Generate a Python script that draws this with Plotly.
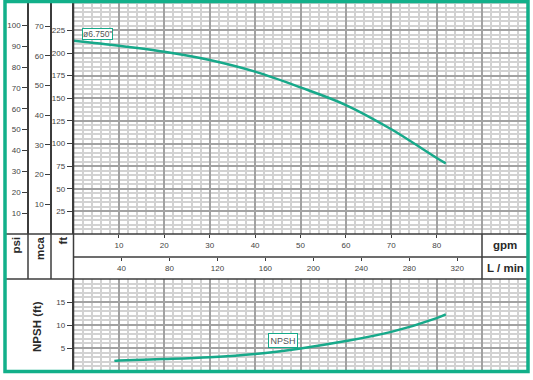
import plotly.graph_objects as go

# ---------------- data ----------------
flow_gpm = [0, 10, 20, 30, 40, 50, 60, 70, 80, 82]
head_ft = [213.6, 208.1, 201.4, 192.3, 179.4, 162.0, 142.5, 115.7, 84.0, 78.1]

npsh_flow_gpm = [9, 10, 20, 30, 40, 50, 60, 70, 80, 82]
npsh_ft = [2.2, 2.3, 2.6, 3.0, 3.7, 4.9, 6.5, 8.5, 11.5, 12.3]

ft_ticks = [25, 50, 75, 100, 125, 150, 175, 200, 225]
psi_ticks = [10, 20, 30, 40, 50, 60, 70, 80, 90, 100]
mca_ticks = [10, 20, 30, 40, 50, 60, 70]
npsh_ticks = [5, 10, 15]
gpm_ticks = [10, 20, 30, 40, 50, 60, 70, 80]
lpm_ticks = [40, 80, 120, 160, 200, 240, 280, 320]

impeller_label = 'ø6.750"'
npsh_label = "NPSH"

# ---------------- styling / layout constants ----------------
W, H = 533, 380
FT_PER_PSI = 2.30666
FT_PER_M = 3.28084
L_PER_GAL = 3.78541

GREEN = "#12b08a"
CURVE = "#17a98a"
DARK = "#3c3c3c"
MAJ = "#a2a2a2"
MIN = "#d2d2d2"
FONT = "Liberation Sans, Arial, sans-serif"

def px(x):
    return x / W

def py(y):
    return 1 - y / H

X0, X1 = 73.5, 527.5          # plot left/right in px
TOP_BOTTOM = 234.0            # 0 ft line
FT_SCALE = 0.905              # px per ft
FT_MAX = TOP_BOTTOM / FT_SCALE
N_TOP, N_BOT = 279.0, 371.0   # NPSH panel

fig = go.Figure()

fig.add_trace(go.Scatter(
    x=flow_gpm, y=head_ft, mode="lines", line=dict(color=CURVE, width=2.5, shape="spline"),
    xaxis="x", yaxis="y", showlegend=False, hoverinfo="skip"))
fig.add_trace(go.Scatter(
    x=npsh_flow_gpm, y=npsh_ft, mode="lines", line=dict(color=CURVE, width=2.5, shape="spline"),
    xaxis="x2", yaxis="y2", showlegend=False, hoverinfo="skip"))

# the same head curve expressed in the secondary units (transparent) so that the
# psi / mca / L-min scales are drawn by Plotly
clear = dict(color="rgba(0,0,0,0)", width=0)
fig.add_trace(go.Scatter(x=flow_gpm, y=[h / FT_PER_PSI for h in head_ft], mode="lines",
                         line=clear, xaxis="x", yaxis="y3", showlegend=False, hoverinfo="skip"))
fig.add_trace(go.Scatter(x=flow_gpm, y=[h / FT_PER_M for h in head_ft], mode="lines",
                         line=clear, xaxis="x", yaxis="y4", showlegend=False, hoverinfo="skip"))
fig.add_trace(go.Scatter(x=flow_gpm, y=head_ft, mode="lines",
                         line=clear, xaxis="x3", yaxis="y", showlegend=False, hoverinfo="skip"))
fig.add_trace(go.Scatter(x=[q * L_PER_GAL for q in flow_gpm], y=head_ft, mode="lines",
                         line=clear, xaxis="x4", yaxis="y", showlegend=False, hoverinfo="skip"))

tickfont = dict(family=FONT, size=8, color="#444")

def grid_x(anchor):
    return dict(domain=[px(X0), px(X1)], range=[0, 100], anchor=anchor,
                tickmode="linear", tick0=0, dtick=10, showticklabels=False, ticks="",
                showgrid=True, gridcolor=MAJ, gridwidth=1.5, zeroline=False, showline=False,
                minor=dict(tickmode="linear", tick0=0, dtick=2, showgrid=True,
                           gridcolor=MIN, gridwidth=1.5))

fig.update_layout(
    width=W, height=H, margin=dict(l=0, r=0, t=0, b=0),
    paper_bgcolor="white", plot_bgcolor="white",
    font=dict(family=FONT),
    xaxis=grid_x("y"),
    xaxis2=grid_x("y2"),
    yaxis=dict(domain=[py(TOP_BOTTOM), 1], range=[0, FT_MAX], tickmode="array",
               tickvals=ft_ticks, ticks="outside", ticklen=5, tickcolor=DARK, tickwidth=1,
               tickfont=tickfont, showline=True, linecolor=DARK, linewidth=1.5,
               showgrid=True, gridcolor=MAJ, gridwidth=1.5, zeroline=False,
               minor=dict(tickmode="linear", tick0=0, dtick=5, showgrid=True,
                          gridcolor=MIN, gridwidth=1.5)),
    yaxis2=dict(domain=[py(N_BOT), py(N_TOP)], range=[0, 20], anchor="x2", tickmode="array",
                tickvals=npsh_ticks, ticks="outside", ticklen=5, tickcolor=DARK, tickwidth=1,
                tickfont=tickfont, showline=True, linecolor=DARK, linewidth=1.5,
                showgrid=True, gridcolor=MAJ, gridwidth=1.5, zeroline=False,
                minor=dict(tickmode="linear", tick0=0, dtick=1, showgrid=True,
                           gridcolor=MIN, gridwidth=1.5)),
    yaxis3=dict(overlaying="y", anchor="free", position=px(28), side="left",
                range=[0, FT_MAX / FT_PER_PSI], tickmode="array", tickvals=psi_ticks,
                ticks="outside", ticklen=5, tickcolor=DARK, tickfont=tickfont,
                showline=True, linecolor=DARK, linewidth=1.5, showgrid=False, zeroline=False),
    yaxis4=dict(overlaying="y", anchor="free", position=px(51), side="left",
                range=[0, FT_MAX / FT_PER_M], tickmode="array", tickvals=mca_ticks,
                ticks="outside", ticklen=5, tickcolor=DARK, tickfont=tickfont,
                showline=True, linecolor=DARK, linewidth=1.5, showgrid=False, zeroline=False),
    xaxis3=dict(overlaying="x", anchor="free", position=py(234), side="bottom",
                range=[0, 100], tickmode="array", tickvals=gpm_ticks, ticks="outside",
                ticklen=3, tickcolor=DARK, tickfont=tickfont, showline=False,
                showgrid=False, zeroline=False),
    xaxis4=dict(overlaying="x", anchor="free", position=py(257), side="bottom",
                range=[0, 100 * L_PER_GAL], tickmode="array", tickvals=lpm_ticks,
                ticks="outside", ticklen=3, tickcolor=DARK, tickfont=tickfont,
                showline=False, showgrid=False, zeroline=False),
)

# ---------------- divider lines & border ----------------
def line(x0, y0, x1, y1, color=DARK, width=1.5):
    fig.add_shape(type="line", xref="paper", yref="paper", x0=px(x0), y0=py(y0),
                  x1=px(x1), y1=py(y1), line=dict(color=color, width=width), layer="above")

line(28, 0, 28, N_TOP)
line(51, 0, 51, N_TOP)
line(X0, 0, X0, N_BOT)
line(482, TOP_BOTTOM, 482, N_TOP)
line(5, TOP_BOTTOM, 528, TOP_BOTTOM)
line(X0, 257, 528, 257)
line(5, N_TOP, 528, N_TOP)

fig.add_shape(type="rect", xref="paper", yref="paper", x0=px(5), y0=py(371.5),
              x1=px(528), y1=py(1.5), line=dict(color=GREEN, width=3.5), layer="above")

# ---------------- text labels ----------------
bold = dict(family=FONT, size=11.5, color="#2a2a2a")

def label(text, x, y, angle=0, yanchor="middle"):
    fig.add_annotation(text="<b>%s</b>" % text, xref="paper", yref="paper", x=px(x), y=py(y),
                       showarrow=False, textangle=angle, xanchor="center", yanchor=yanchor,
                       font=bold)

label("psi", 15.5, 234.5, -90, "top")
label("mca", 39.5, 234.5, -90, "top")
label("ft", 62, 234.5, -90, "top")
label("gpm", 505, 245)
label("L / min", 505, 268)
label("NPSH (ft)", 37, 327, -90)

boxfont = dict(family=FONT, size=8.5, color="#555")
fig.add_annotation(text=impeller_label, xref="x", yref="y", x=5.3, y=221.5, showarrow=False,
                   bgcolor="white", bordercolor=CURVE, borderwidth=1, borderpad=0, font=boxfont)
fig.add_annotation(text=npsh_label, xref="x2", yref="y2", x=46.1, y=6.6, showarrow=False,
                   bgcolor="white", bordercolor=CURVE, borderwidth=1, borderpad=1.5,
                   font=dict(family=FONT, size=9, color="#555"))

fig.write_html("out.html")
